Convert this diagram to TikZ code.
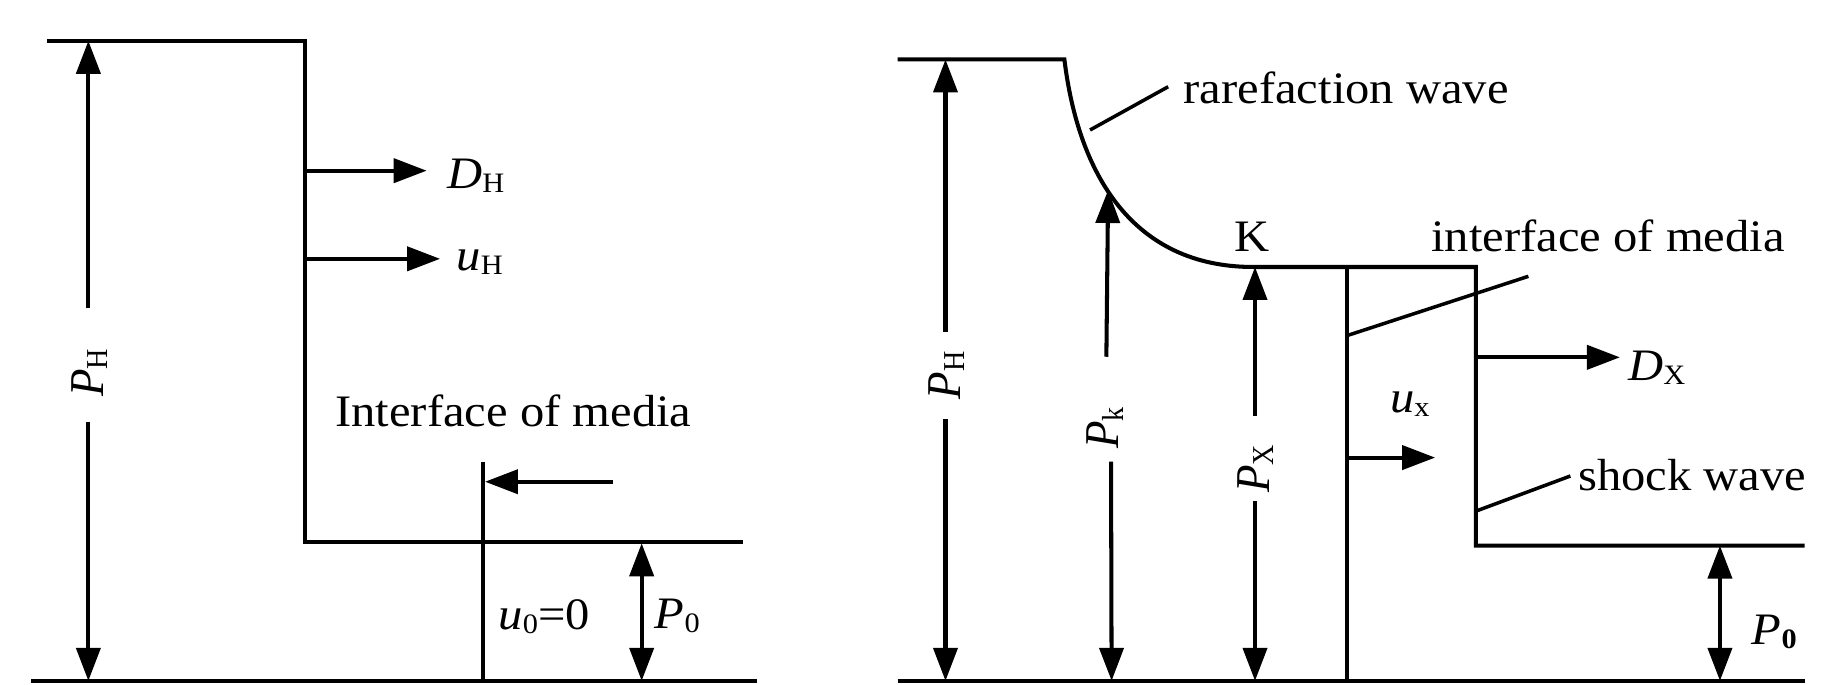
\documentclass[tikz,border=0pt]{standalone}
\usepackage{fontspec}
\setmainfont{Liberation Serif}
\usetikzlibrary{arrows.meta}
\newcommand{\hs}[1]{\scalebox{1.08}[1]{#1}}
\newcommand{\vs}[1]{\scalebox{1}[1.08]{#1}}
\newcommand{\sbx}[1]{\raisebox{-0.2ex}{\fontsize{8}{9}\selectfont #1}}
\begin{document}
\begin{tikzpicture}[x=0.11658mm,y=-0.11658mm, line width=1.15pt,
  arr/.style={-{Triangle[length=3.3mm,width=2.4mm]}},
  darr/.style={{Triangle[length=3.3mm,width=2.4mm]}-{Triangle[length=3.3mm,width=2.4mm]}},
  lbl/.style={inner sep=0pt, font=\fontsize{12.8}{15}\selectfont},
  leader/.style={line width=1pt}]
\useasboundingbox (0,0) rectangle (1568,587);

% ---------------- left panel ----------------
\coordinate (LTa) at (40,35);
\coordinate (LTb) at (262,35);
\coordinate (LStep) at (262,465);
\coordinate (LLow) at (637,465);
\coordinate (LB1) at (27,584);
\coordinate (LB2) at (649,584);
\draw[line join=miter] (LTa) -- (LTb) -- (LStep) -- (LLow);
\draw (LB1) -- (LB2);

\coordinate (PHlU) at (75.8,264.5);
\coordinate (PHlT) at (75.8,35);
\coordinate (PHlL) at (75.8,361.7);
\coordinate (PHlB) at (75.8,584);
\draw[arr] (PHlU) -- (PHlT);
\draw[arr] (PHlL) -- (PHlB);
\node[lbl, rotate=90] (PHl) at (77,320) {\vs{\textit{P}\sbx{H}}};

\coordinate (DHs) at (262,146.4);
\coordinate (DHe) at (366,146.4);
\draw[arr] (DHs) -- (DHe);
\node[lbl, anchor=base west] (DHl) at (382,161.5) {\hs{\textit{D}\sbx{H}}};

\coordinate (uHs) at (262,222);
\coordinate (uHe) at (377.5,222);
\draw[arr] (uHs) -- (uHe);
\node[lbl, anchor=base west] (uHl) at (390,231.6) {\hs{\textit{u}\sbx{H}}};

\node[lbl, anchor=base] (IMl) at (440.3,366) {\hs{Interface of media}};
\coordinate (LIt) at (414.6,396);
\coordinate (LIb) at (414.6,584);
\draw (LIt) -- (LIb);
\coordinate (LAs) at (526,413.2);
\coordinate (LAe) at (416,413.2);
\draw[arr] (LAs) -- (LAe);

\node[lbl, anchor=base west] (u0l) at (426,540) {\hs{\textit{u}\sbx{0}=0}};
\coordinate (P0lT) at (550.4,466);
\coordinate (P0lB) at (550.4,584);
\draw[darr] (P0lT) -- (P0lB);
\node[lbl, anchor=base west] (P0l) at (560,539) {\hs{\textit{P}\sbx{0}}};

% ---------------- right panel ----------------
\coordinate (RTa) at (770,51);
\coordinate (RTb) at (913,51);
\coordinate (RK) at (1075,229);
\coordinate (RSt) at (1266,229);
\coordinate (RSb) at (1266,468);
\coordinate (RLow) at (1548,468);
\draw[line join=miter] (RTa) -- (RTb) .. controls (925,150) and (972,229) .. (RK) -- (RSt) -- (RSb) -- (RLow);
\coordinate (RB1) at (770,584);
\coordinate (RB2) at (1548,584);
\draw (RB1) -- (RB2);
\coordinate (RIt) at (1155,229);
\coordinate (RIb) at (1155,584);
\draw (RIt) -- (RIb);

\coordinate (PHrU) at (811,284.6);
\coordinate (PHrT) at (811,51);
\coordinate (PHrL) at (811,359.5);
\coordinate (PHrB) at (811,584);
\draw[arr] (PHrU) -- (PHrT);
\draw[arr] (PHrL) -- (PHrB);
\node[lbl, rotate=90] (PHr) at (812,322) {\vs{\textit{P}\sbx{H}}};

\coordinate (PkU) at (949,306);
\coordinate (PkT) at (950.5,163);
\coordinate (PkL) at (953,396);
\coordinate (PkB) at (953.5,584);
\draw[arr] (PkU) -- (PkT);
\draw[arr] (PkL) -- (PkB);
\node[lbl, rotate=90] (Pkl) at (948,367) {\vs{\textit{P}\sbx{k}}};

\coordinate (PXU) at (1076.5,357);
\coordinate (PXT) at (1076.5,229);
\coordinate (PXL) at (1076.5,430);
\coordinate (PXB) at (1076.5,584);
\draw[arr] (PXU) -- (PXT);
\draw[arr] (PXL) -- (PXB);
\node[lbl, rotate=90] (PXl) at (1077,402) {\vs{\textit{P}\sbx{X}}};

\node[lbl, anchor=base] (Kl) at (1074,215.6) {\hs{K}};

\coordinate (uxs) at (1155,392.5);
\coordinate (uxe) at (1231,392.5);
\draw[arr] (uxs) -- (uxe);
\node[lbl, anchor=base west] (uxl) at (1190.7,353.8) {\hs{\textit{u}\sbx{x}}};

\coordinate (DXs) at (1266,306.5);
\coordinate (DXe) at (1389.5,306.5);
\draw[arr] (DXs) -- (DXe);
\node[lbl, anchor=base west] (DXl) at (1395,326.5) {\hs{\textit{D}\sbx{X}}};

\coordinate (P0rT) at (1475.3,468);
\coordinate (P0rB) at (1475.3,584);
\draw[darr] (P0rT) -- (P0rB);
\node[lbl, anchor=base west] (P0r) at (1501,553) {\hs{\textit{P}\sbx{\textbf{0}}}};

\node[lbl, anchor=base west] (RWl) at (1013.6,88.6) {\hs{rarefaction wave}};
\coordinate (RWa) at (935,111.5);
\coordinate (RWb) at (1002,74.4);
\draw[leader] (RWa) -- (RWb);

\node[lbl, anchor=base west] (IMr) at (1226,216) {\hs{interface of media}};
\coordinate (IMa) at (1155,288);
\coordinate (IMb) at (1311,237);
\draw[leader] (IMa) -- (IMb);

\node[lbl, anchor=base west] (SWl) at (1352,421) {\hs{shock wave}};
\coordinate (SWa) at (1266,438.4);
\coordinate (SWb) at (1347,408.3);
\draw[leader] (SWa) -- (SWb);
\end{tikzpicture}
\end{document}
